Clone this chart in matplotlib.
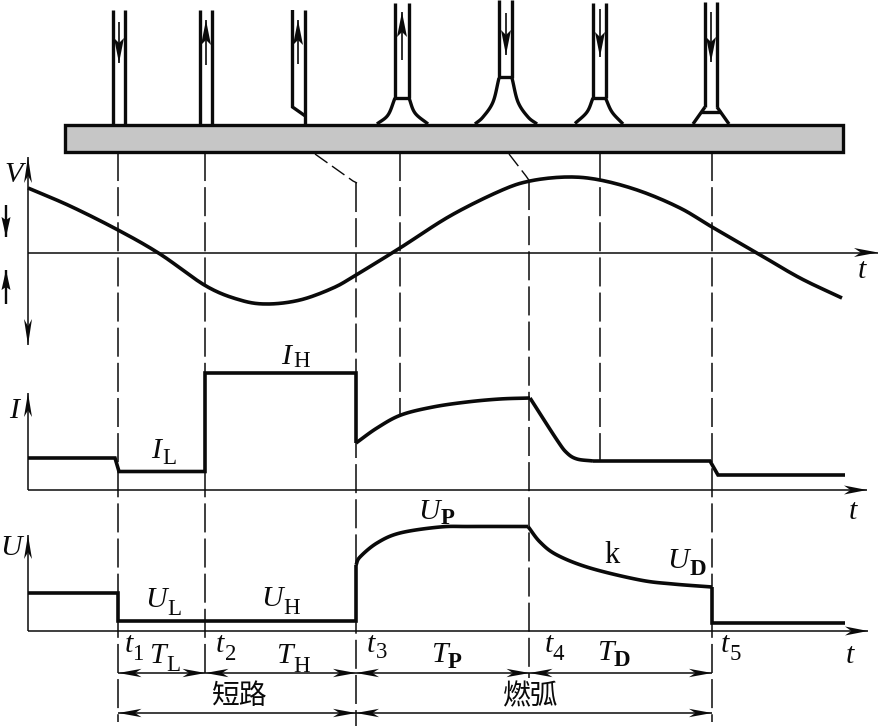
import matplotlib
matplotlib.use("Agg")
import matplotlib.pyplot as plt
import numpy as np
from matplotlib.patches import Rectangle, Polygon

SERIF = ["Liberation Serif", "DejaVu Serif"]
CJK = ["Noto Sans CJK SC", "DejaVu Sans"]

# --- curves (x, y in image pixels) ---
v_x = [28, 70, 118, 160, 206, 240, 267, 300, 333, 356, 400, 450, 500, 530, 567, 600, 640, 680, 712, 757, 800, 842]
v_y = [188, 206, 230, 254, 286, 300, 304, 300, 288, 275, 248, 216, 191, 181, 177, 180, 191, 208, 227, 253, 278, 298]

i_step1_x = [28, 115, 119, 205, 205, 356, 356]
i_step1_y = [458, 458, 471.5, 471.5, 373, 373, 443]
i_rise_x = [356, 377, 401, 433, 467, 500, 530]
i_rise_y = [443, 428, 415, 407, 402, 399, 398]
i_fall_x = [530, 557, 567, 577, 593]
i_fall_y = [398, 440, 453, 459, 461]
i_step2_x = [593, 710, 718, 845]
i_step2_y = [461, 461, 475, 475]

u_step1_x = [28, 118, 118, 356, 356]
u_step1_y = [592.7, 592.7, 620.7, 620.7, 565]
u_rise_x = [356, 360, 377, 400, 440, 470, 528]
u_rise_y = [565, 557, 543, 533, 527, 526.5, 526.5]
u_fall_x = [528, 540, 557, 590, 640, 673, 712]
u_fall_y = [526.5, 542, 555, 568, 580, 584, 587]
u_step2_x = [712, 712, 845]
u_step2_y = [587, 623, 623]

# --- plate ---
plate_x = [65, 843]
plate_y = [125, 152]

# --- electrode wire: left x, right x, top y; arrows: x, tail y, tip y ---
wire_left = [112.7, 199.7, 292.5, 395, 499, 593, 705]
wire_right = [125.3, 212, 305.3, 409, 512, 606, 717]
wire_top = [10, 10, 10, 3, 0, 3, 2]
wire_bottom = [125, 125, 125, 98, 78, 98, 107]
arrow_x = [119, 206, 298, 402, 506, 600, 711]
arrow_tail = [22, 65, 64, 60, 13, 9, 12]
arrow_tip = [63, 20, 20, 12, 55, 57, 62]

# --- droplet outlines ---
wire3_tip = ([292.5, 292.5, 305.3], [10, 107, 116])
drop_curves = [
    ([395, 388, 377], [98, 115, 124]),
    ([409, 415, 428], [98, 113, 124]),
    ([499, 493, 483, 475], [78, 102, 117, 124]),
    ([512, 518, 528, 537], [78, 102, 117, 124]),
    ([593, 587, 575], [98, 112, 123.5]),
    ([605.5, 612, 623], [98, 112, 124]),
]
drop_straight = [
    ([705, 693], [107, 124]),
    ([717, 729], [107, 124]),
]
necks = [([395, 409], [98, 98]), ([499, 512], [77, 77]), ([593, 606], [98, 98]), ([701, 721], [112, 112])]

# --- dashed guides (x, y from, y to) ---
guide_x = [118.5, 205.5, 356, 400.5, 529.5, 600, 712]
guide_from = [152, 152, 183, 152, 181, 152, 152]
guide_to = [722, 673, 726, 415, 678, 461, 722]
slant1 = ([315, 353, 357], [154, 181, 183])
slant2 = ([509, 526, 529.5], [154, 176, 181])

# --- dimension lines ---
dim_y = [673, 713]
dim_row1 = [118.5, 205.5, 356, 529.5, 712]
dim_row2 = [118.5, 356, 712]

# --- labels: (main, x, baseline, sub, sub x, sub baseline, weight) ---
labels = [
    ("I", 281, 364, "H", 293, 367, "normal"),
    ("I", 151, 458, "L", 162, 464, "normal"),
    ("U", 418, 519, "P", 441, 524, "bold"),
    ("U", 667, 568, "D", 690, 575, "bold"),
    ("U", 145, 607, "L", 167, 615, "normal"),
    ("U", 261, 606, "H", 283, 614, "normal"),
    ("t", 125, 652, "1", 132, 660, "normal"),
    ("T", 149, 663, "L", 166, 671, "normal"),
    ("t", 216, 652, "2", 225, 660, "normal"),
    ("T", 276, 663, "H", 293, 672, "normal"),
    ("t", 367, 652, "3", 376, 658, "normal"),
    ("T", 431, 662, "P", 448, 668, "bold"),
    ("t", 545, 652, "4", 553, 660, "normal"),
    ("T", 597, 660, "D", 614, 666, "bold"),
    ("t", 721, 652, "5", 730, 660, "normal"),
]
axis_labels = [("V", 4, 182), ("I", 9, 418), ("U", 0, 555), ("t", 858, 278), ("t", 849, 519), ("t", 846, 663)]
cjk_labels = [("短路", 240, 696), ("燃弧", 531, 696)]

fig = plt.figure(figsize=(8.79, 7.26), dpi=100, facecolor="white")
ax = fig.add_axes([0, 0, 1, 1])
ax.set_xlim(0, 879)
ax.set_ylim(726, 0)
ax.axis("off")

K = "#0a0a0a"
THICK = 2.6
WIRE = 2.4
THIN = 1.1


def rounded(x, y, n=14):
    p = np.column_stack([x, y]).astype(float)
    p = np.vstack([2 * p[0] - p[1], p, 2 * p[-1] - p[-2]])
    out = []
    for k in range(1, len(p) - 2):
        a, b, c, d = p[k - 1], p[k], p[k + 1], p[k + 2]
        for t in np.linspace(0, 1, n, endpoint=False):
            out.append(0.5 * (2 * b + (c - a) * t + (2 * a - 5 * b + 4 * c - d) * t ** 2
                              + (3 * b - a - 3 * c + d) * t ** 3))
    out.append(p[-2])
    out = np.array(out)
    return out[:, 0], out[:, 1]


def thick(x, y, lw=THICK):
    ax.plot(x, y, color=K, lw=lw, solid_joinstyle="miter", solid_capstyle="butt", zorder=3)


def head(x0, y0, x1, y1, length, half, notch=0.72):
    """Barbed arrow head whose tip sits at (x1, y1), pointing away from (x0, y0)."""
    d = np.array([x1 - x0, y1 - y0], dtype=float)
    d /= np.hypot(*d)
    n = np.array([-d[1], d[0]])
    tip = np.array([x1, y1], dtype=float)
    ax.add_patch(Polygon([tip, tip - d * length + n * half, tip - d * length * notch,
                          tip - d * length - n * half], closed=True, facecolor=K, edgecolor="none", zorder=4))


def arrow(x0, y0, x1, y1, length=23, half=4.2, lw=THIN, notch=0.72):
    ax.plot([x0, x1], [y0, y1], color=K, lw=lw, solid_capstyle="butt", zorder=3)
    head(x0, y0, x1, y1, length, half, notch)


# plate
ax.add_patch(Rectangle((plate_x[0], plate_y[0]), plate_x[1] - plate_x[0], plate_y[1] - plate_y[0],
                       facecolor="#c6c6c6", edgecolor=K, lw=2.4, zorder=2))

# wires
for i in range(7):
    if i == 2:
        thick(*wire3_tip, lw=WIRE)
    else:
        thick([wire_left[i]] * 2, [wire_top[i], wire_bottom[i]], lw=WIRE)
    thick([wire_right[i]] * 2, [wire_top[i], wire_bottom[i]], lw=WIRE)
    arrow(arrow_x[i], arrow_tail[i], arrow_x[i], arrow_tip[i], length=25, half=5, lw=1.2, notch=0.8)

for shape in drop_curves:
    thick(*rounded(*shape), lw=WIRE)
for shape in drop_straight + necks:
    thick(*shape, lw=WIRE)

# guides
DASH = (0, (19, 4))
for gx, g0, g1 in zip(guide_x, guide_from, guide_to):
    ax.plot([gx, gx], [g0, g1], color=K, lw=1.1, ls=DASH, zorder=1)
for s in (slant1, slant2):
    ax.plot(*s, color=K, lw=1.0, ls=(0, (11, 4)), zorder=1)

# axes
arrow(28, 253, 28, 157, length=26, half=4)
arrow(28, 253, 28, 345, length=26, half=4)
arrow(28, 252.5, 878, 252.5, length=24, half=4.5)
arrow(6, 205, 6, 237, length=20, half=4.5, lw=1.7, notch=0.85)
arrow(6, 304, 6, 270, length=20, half=4.5, lw=1.7, notch=0.85)

arrow(28, 490, 28, 393, length=24, half=4)
arrow(28, 490, 867, 490, length=23, half=4.5)
arrow(28, 631, 28, 535, length=24, half=4)
arrow(28, 631, 868, 631, length=23, half=4.5)

# curves
thick(*rounded(v_x, v_y))
thick(i_step1_x, i_step1_y)
thick(*rounded(i_rise_x, i_rise_y))
thick(*rounded(i_fall_x, i_fall_y))
thick(i_step2_x, i_step2_y)
thick(u_step1_x, u_step1_y)
thick(*rounded(u_rise_x, u_rise_y))
thick(*rounded(u_fall_x, u_fall_y))
thick(u_step2_x, u_step2_y)

# dimension lines
for row, yy in zip((dim_row1, dim_row2), dim_y):
    for a, b in zip(row[:-1], row[1:]):
        arrow(a, yy, b, yy)
        head(b, yy, a, yy, 23, 4.2)

# text
for main, mx, my, sub, sx, sy, weight in labels:
    ax.text(mx, my, main, family=SERIF, style="italic", fontsize=21.5, va="baseline", ha="left", color=K, zorder=5)
    ax.text(sx, sy, sub, family=SERIF, fontsize=16.5, weight=weight, va="baseline", ha="left", color=K, zorder=5)
for s, x, y in axis_labels:
    ax.text(x, y, s, family=SERIF, style="italic", fontsize=21.5, va="baseline", ha="left", color=K, zorder=5)
ax.text(604, 563, "k", family=SERIF, fontsize=22, va="baseline", ha="left", color=K, zorder=5)
for s, x, y in cjk_labels:
    ax.text(x, y, s, family=CJK, fontsize=20, va="center", ha="center", color=K, zorder=5)

fig.savefig("out.png", dpi=100, facecolor="white")
